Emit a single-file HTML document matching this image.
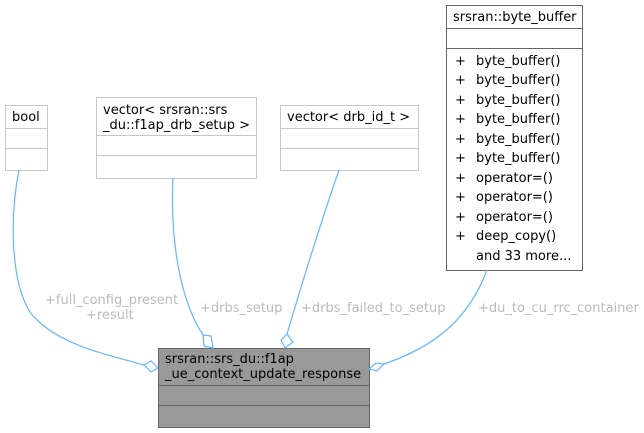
<!DOCTYPE html>
<html><head><meta charset="utf-8"><style>
html,body{margin:0;padding:0;background:#fff;}
svg{display:block;}
text{font-family:"DejaVu Sans","Liberation Sans",sans-serif;font-size:13px;}
</style></head><body>
<svg width="644" height="433" viewBox="0 0 644 433" xmlns="http://www.w3.org/2000/svg">
<g fill="#fff" stroke="#c8c8c8" stroke-width="1">
<rect x="5.5" y="105.5" width="42" height="65"/>
<line x1="5.5" y1="128.5" x2="47.5" y2="128.5"/><line x1="5.5" y1="148.5" x2="47.5" y2="148.5"/>
<rect x="96.5" y="97.5" width="160" height="81"/>
<line x1="96.5" y1="135.5" x2="256.5" y2="135.5"/><line x1="96.5" y1="155.5" x2="256.5" y2="155.5"/>
<rect x="280.5" y="105.5" width="138" height="65"/>
<line x1="280.5" y1="128.5" x2="418.5" y2="128.5"/><line x1="280.5" y1="148.5" x2="418.5" y2="148.5"/>
</g>
<g fill="#fff" stroke="#666" stroke-width="1">
<rect x="446.5" y="5.5" width="136" height="265"/>
<line x1="446.5" y1="28.5" x2="582.5" y2="28.5"/><line x1="446.5" y1="48.5" x2="582.5" y2="48.5"/>
</g>
<g fill="#999" stroke="#666" stroke-width="1">
<rect x="158.5" y="348.5" width="211" height="79"/>
<line x1="158.5" y1="385.5" x2="369.5" y2="385.5"/><line x1="158.5" y1="405.5" x2="369.5" y2="405.5"/>
</g>
<g fill="none" stroke="#63b8ff" stroke-width="1.2">
<path d="M19,170 C10,215 10,280 30,312 C55,345 110,355 144,365"/>
<path d="M173,178 C170,240 180,300 203,335"/>
<path d="M339,170 C320,225 300,290 287,334"/>
<path d="M487,270 C470,315 440,345 384,364"/>
</g>
<g fill="#fff" stroke="#63b8ff" stroke-width="1.2">
<polygon points="144,365 151,361 158,368 151,372"/>
<polygon points="203,335 211,336 213,348 204,346"/>
<polygon points="287,334 293,342 285,348 281,340"/>
<polygon points="384,364 377,371 369,369 376,363"/>
</g>
<g fill="#000">
<text x="12" y="121">bool</text>
<text x="103" y="114">vector&lt; srsran::srs</text>
<text x="103" y="129">_du::f1ap_drb_setup &gt;</text>
<text x="287" y="121">vector&lt; drb_id_t &gt;</text>
<text x="453" y="21">srsran::byte_buffer</text>
<g>
<text x="455" y="65">+</text><text x="476" y="65">byte_buffer()</text>
<text x="455" y="84">+</text><text x="476" y="84">byte_buffer()</text>
<text x="455" y="104">+</text><text x="476" y="104">byte_buffer()</text>
<text x="455" y="123">+</text><text x="476" y="123">byte_buffer()</text>
<text x="455" y="143">+</text><text x="476" y="143">byte_buffer()</text>
<text x="455" y="162">+</text><text x="476" y="162">byte_buffer()</text>
<text x="455" y="182">+</text><text x="476" y="182">operator=()</text>
<text x="455" y="201">+</text><text x="476" y="201">operator=()</text>
<text x="455" y="221">+</text><text x="476" y="221">operator=()</text>
<text x="455" y="240">+</text><text x="476" y="240">deep_copy()</text>
<text x="476" y="260">and 33 more...</text>
</g>
<text x="165" y="363">srsran::srs_du::f1ap</text>
<text x="165" y="378">_ue_context_update_response</text>
</g>
<g fill="#bbb">
<text x="45" y="304">+full_config_present</text>
<text x="86" y="319">+result</text>
<text x="200" y="312">+drbs_setup</text>
<text x="301" y="312">+drbs_failed_to_setup</text>
<text x="478" y="312">+du_to_cu_rrc_container</text>
</g>
</svg>
</body></html>
